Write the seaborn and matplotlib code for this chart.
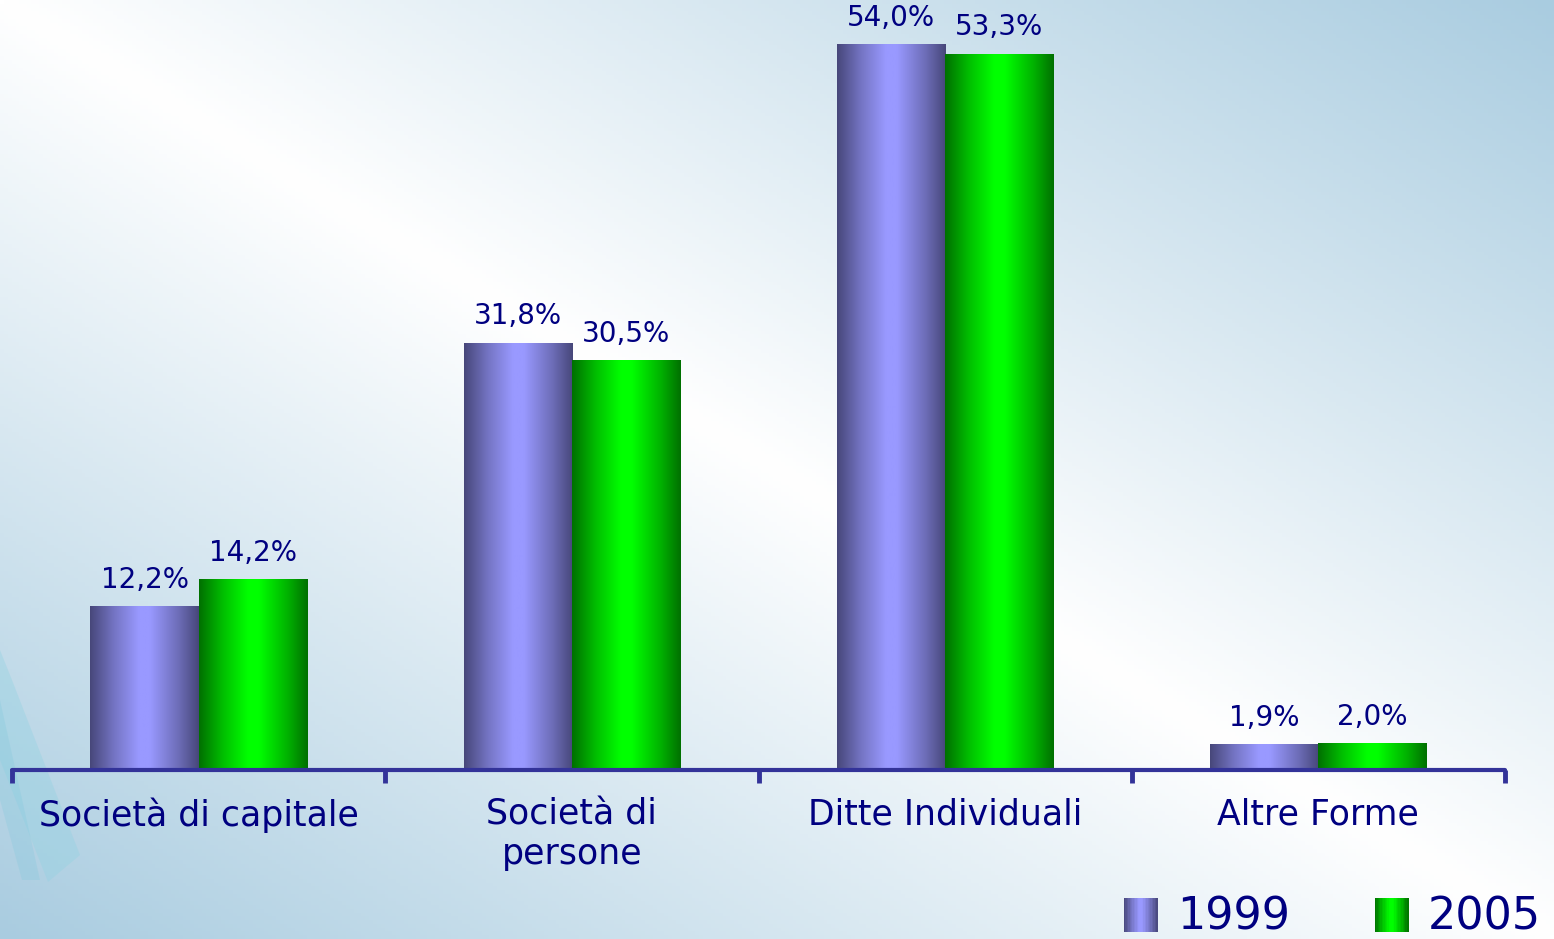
import numpy as np
import pandas as pd
import matplotlib
matplotlib.use('Agg')
import matplotlib.pyplot as plt
import seaborn as sns
from matplotlib.colors import LinearSegmentedColormap, to_rgb
from matplotlib.legend_handler import HandlerBase
from matplotlib.patches import Rectangle, Patch, Polygon
from matplotlib.ticker import FixedLocator

# data
forme = ['Società di capitale', 'Società di\npersone', 'Ditte Individuali', 'Altre Forme']
anni = ['1999', '2005']
quota_1999 = [12.2, 31.8, 54.0, 1.9]
quota_2005 = [14.2, 30.5, 53.3, 2.0]

NAVY = '#000080'
AXIS_BLUE = '#333399'

sns.set_style('white')
plt.rcParams['font.family'] = ['DejaVu Sans']


def shade_cmap(dark, light):
    d, l = np.array(to_rgb(dark)), np.array(to_rgb(light))
    stops = [(0.0, d), (0.22, d * 0.45 + l * 0.55), (0.45, l), (0.55, l),
             (0.82, d * 0.55 + l * 0.45), (1.0, d)]
    return LinearSegmentedColormap.from_list('shade', [(p, tuple(c)) for p, c in stops])


cmaps = {
    '1999': shade_cmap('#47477a', '#9999ff'),
    '2005': shade_cmap('#007000', '#00ff00'),
}


class GradientHandler(HandlerBase):
    def __init__(self, cmap):
        super().__init__()
        self.cmap = cmap

    def create_artists(self, legend, orig_handle, xdescent, ydescent, width, height, fontsize, trans):
        n = 24
        arts = []
        for i in range(n):
            r = Rectangle((-xdescent + i * width / n, -ydescent), width / n + 0.3, height,
                          facecolor=self.cmap((i + 0.5) / n), edgecolor='none', transform=trans)
            arts.append(r)
        return arts


df = pd.DataFrame({
    'forma': forme * 2,
    'quota': quota_1999 + quota_2005,
    'anno': ['1999'] * 4 + ['2005'] * 4,
})

fig = plt.figure(figsize=(15.54, 9.39), dpi=100)

# background gradient
bg = fig.add_axes([0, 0, 1, 1], zorder=-10)
gx, gy = np.meshgrid(np.linspace(0, 1, 400), np.linspace(0, 1, 250))
d = np.clip(np.abs(gx - gy), 0, 1)
blue = np.array(to_rgb('#a9cce0'))
img = np.ones((250, 400, 3)) * (1 - d[..., None]) + blue * d[..., None]
bg.imshow(img, extent=[0, 1, 0, 1], aspect='auto', origin='upper')
W, H = 1554, 939
bg.add_patch(Polygon([(0 / W, 1 - 650 / H), (12 / W, 1 - 680 / H), (80 / W, 1 - 855 / H),
                      (48 / W, 1 - 882 / H), (0 / W, 1 - 760 / H)],
                     closed=True, facecolor='#8fd2e2', edgecolor='none', alpha=0.35))
bg.add_patch(Polygon([(0 / W, 1 - 700 / H), (40 / W, 1 - 880 / H), (22 / W, 1 - 880 / H), (0 / W, 1 - 800 / H)],
                     closed=True, facecolor='#7cc8dc', edgecolor='none', alpha=0.25))
bg.set_xlim(0, 1)
bg.set_ylim(0, 1)
bg.axis('off')

ax = fig.add_axes([12 / W, 1 - 770 / H, (1505 - 12) / W, 770 / H])
ax.set_facecolor('none')

sns.barplot(data=df, x='forma', y='quota', hue='anno', hue_order=anni, order=forme,
            palette={'1999': '#9999ff', '2005': '#00ff00'}, width=0.58, gap=0,
            saturation=1, legend=False, ax=ax)

for anno, cont in zip(anni, ax.containers):
    for bar in cont:
        x0, w, h = bar.get_x(), bar.get_width(), bar.get_height()
        im = ax.imshow(np.linspace(0, 1, 256)[None, :], extent=[x0, x0 + w, 0, h],
                       aspect='auto', cmap=cmaps[anno], zorder=bar.get_zorder() + 0.1)
        im.set_clip_path(bar)
        bar.set_facecolor('none')
        bar.set_edgecolor('none')
    vals = [b.get_height() for b in cont]
    ax.bar_label(cont, labels=[f'{v:.1f}'.replace('.', ',') + '%' for v in vals],
                 padding=9, fontsize=20, color=NAVY)

ax.set_xlim(-0.5, len(forme) - 0.5)
ax.set_ylim(0, 57.3)
ax.set_xlabel('')
ax.set_ylabel('')
ax.set_yticks([])
for s in ['top', 'right', 'left']:
    ax.spines[s].set_visible(False)
ax.spines['bottom'].set_color(AXIS_BLUE)
ax.spines['bottom'].set_linewidth(3)
ax.spines['bottom'].set_capstyle('round')
ax.xaxis.set_minor_locator(FixedLocator(np.arange(-0.5, len(forme), 1.0)))
ax.tick_params(axis='x', which='major', bottom=False, length=0, pad=20, labelsize=25, labelcolor=NAVY)
ax.tick_params(axis='x', which='minor', bottom=True, length=9, width=3.5, color=AXIS_BLUE, direction='out')
for lab in ax.get_xticklabels():
    lab.set_verticalalignment('top')
    lab.set_linespacing(1.2)

handles = [Patch(label=a) for a in anni]
fig.legend(handles=handles, labels=anni,
           handler_map={handles[0]: GradientHandler(cmaps['1999']), handles[1]: GradientHandler(cmaps['2005'])},
           loc='lower left', bbox_to_anchor=(1124 / W, 0), ncol=2, frameon=False,
           fontsize=32, labelcolor=NAVY, borderpad=0, borderaxespad=0, handlelength=0.75, handleheight=0.8,
           handletextpad=0.45, columnspacing=1.9)

fig.savefig('out.png', dpi=100)
